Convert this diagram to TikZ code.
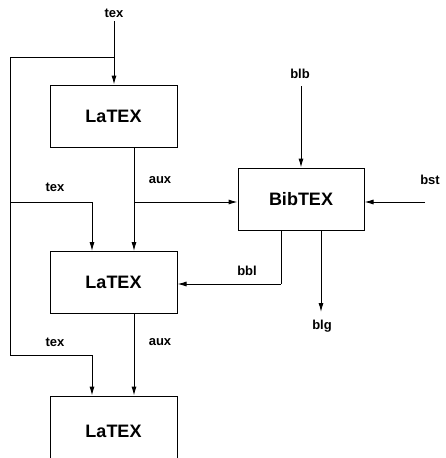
\documentclass[tikz,border=0pt]{standalone}
\usepackage{fontspec}
\setmainfont{Liberation Sans}
\usetikzlibrary{arrows.meta}
\tikzset{
  proc/.style={draw, line width=1pt, rectangle, minimum width=127pt, minimum height=62pt, inner sep=0pt, font=\fontsize{18}{20}\selectfont\bfseries},
  lbl/.style={font=\fontsize{13}{15}\selectfont\bfseries, inner sep=0pt},
  conn/.style={line width=1pt},
  arr/.style={line width=1pt, -{Latex[length=9pt,width=5pt]}}
}
\begin{document}
\begin{tikzpicture}[x=1pt,y=-1pt]
\useasboundingbox (0,0) rectangle (445,458);
\clip (0,0) rectangle (445,458);
\fill[white] (0,0) rectangle (445,458);
% process boxes
\node[proc] (la) at (113.5,116) {LaTEX};
\node[proc] (lb) at (113.5,282.5) {LaTEX};
\node[proc, minimum height=70pt] (lc) at (113.5,431) {LaTEX};
\node[proc, minimum width=126pt] (bib) at (301,199) {BibTEX};
% labels
\node[lbl] (ltex1) at (114,13) {tex};
\node[lbl] (ltex2) at (55,187) {tex};
\node[lbl] (laux1) at (160,180) {aux};
\node[lbl] (lblb) at (300,74) {blb};
\node[lbl] (lbst) at (430,180) {bst};
\node[lbl] (lbbl) at (247,271) {bbl};
\node[lbl] (lblg) at (322,326) {blg};
\node[lbl] (ltex3) at (55,342) {tex};
\node[lbl] (laux2) at (160,342) {aux};
% coordinates
\coordinate (t0) at (114,21);
\coordinate (j1) at (114,57);
\coordinate (c1) at (10,57);
\coordinate (c2) at (10,355);
\coordinate (j2) at (10,202);
\coordinate (j3) at (134,202);
\coordinate (b0) at (301,86);
\coordinate (s0) at (425,202);
\coordinate (g1) at (321,312);
\coordinate (k1) at (281,284);
% connectors
\draw[arr] (t0) -- (la.north -| t0);
\draw[conn] (j1) -- (c1) -- (c2);
\draw[arr] (c2) -| ([xshift=-21.5pt]lc.north);
\draw[arr] (j2) -| ([xshift=-21.5pt]lb.north);
\draw[arr] ([xshift=20.5pt]la.south) -- ([xshift=20.5pt]lb.north);
\draw[arr] (j3) -- (bib.west |- j3);
\draw[arr] ([xshift=20.5pt]lb.south) -- ([xshift=20.5pt]lc.north);
\draw[arr] (b0) -- (bib.north);
\draw[arr] (s0) -- (bib.east |- s0);
\draw[conn] (bib.south -| k1) -- (k1);
\draw[arr] (k1) -- (lb.east |- k1);
\draw[arr] (bib.south -| g1) -- (g1);
\end{tikzpicture}
\end{document}
